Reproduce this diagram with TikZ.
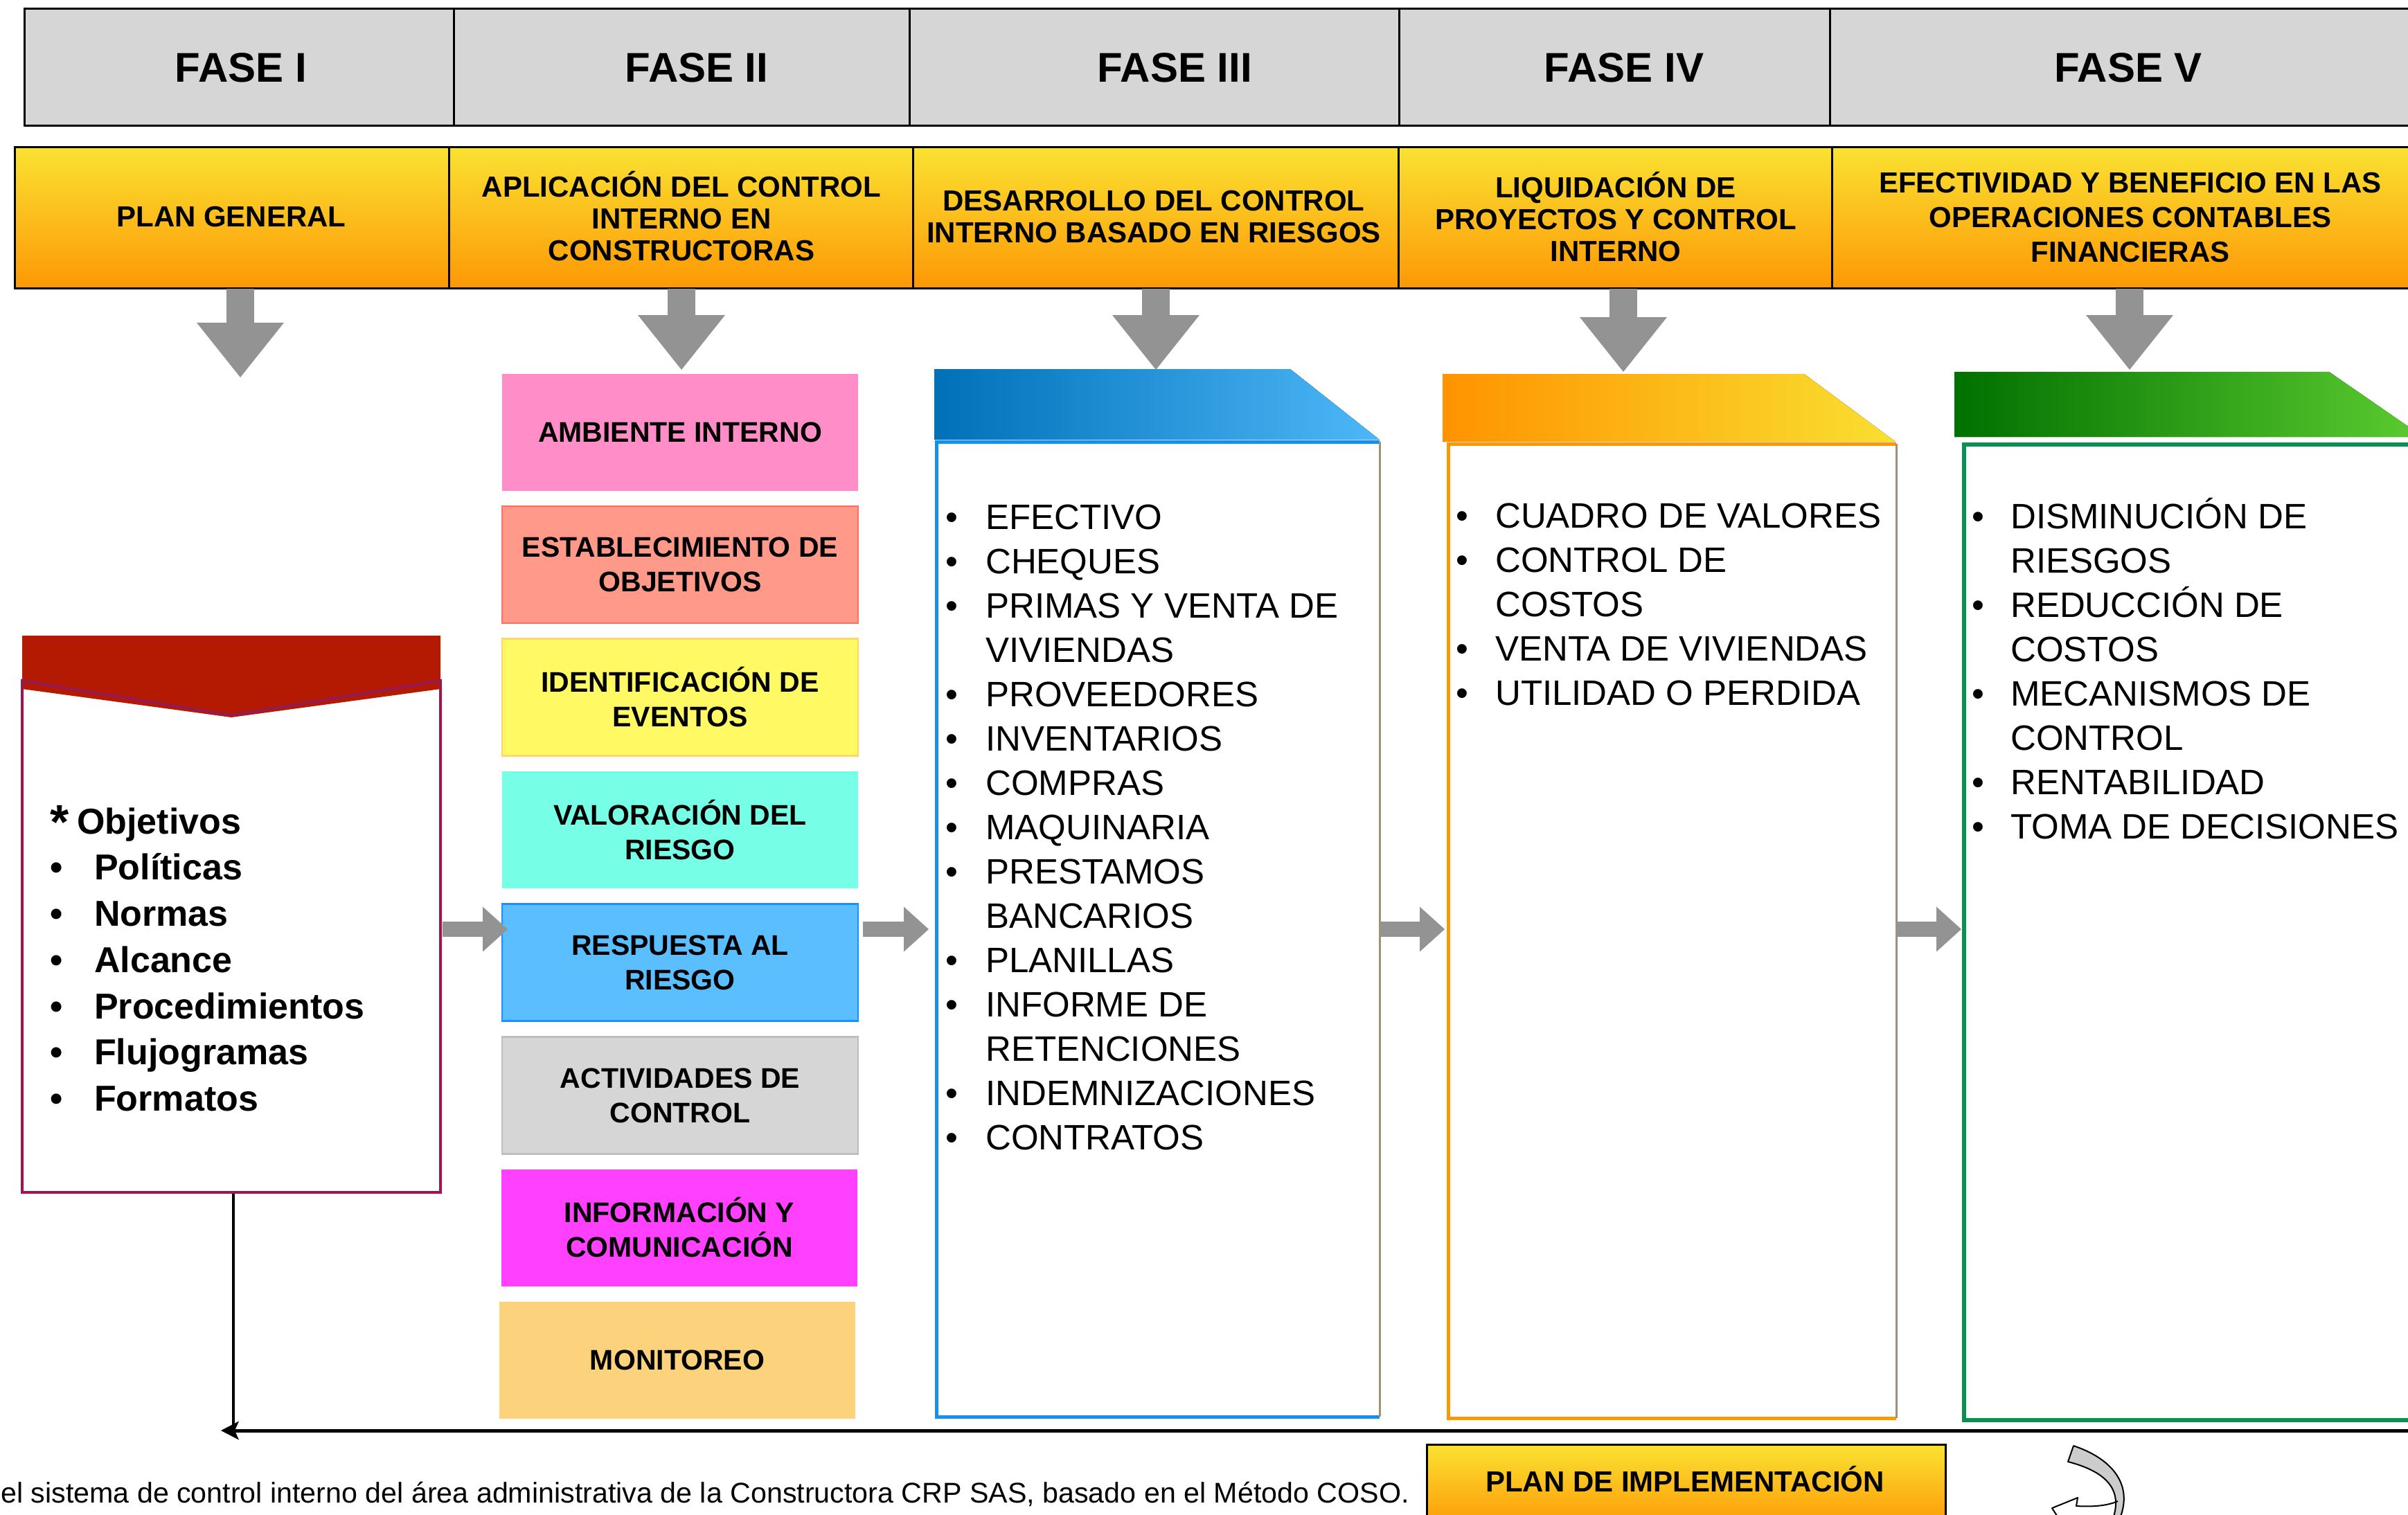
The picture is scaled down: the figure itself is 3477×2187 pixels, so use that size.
\documentclass[tikz,border=0pt]{standalone}
\usepackage{fontspec}
\setmainfont{Liberation Sans}
\usetikzlibrary{arrows.meta}
\definecolor{hdrgray}{RGB}{214,214,214}
\definecolor{ylw}{RGB}{250,226,50}
\definecolor{org}{RGB}{253,152,5}
\definecolor{arrgray}{RGB}{147,147,147}
\definecolor{darkred}{RGB}{180,25,2}
\definecolor{plum}{RGB}{150,25,80}
\definecolor{cAmb}{RGB}{255,141,199}
\definecolor{cEst}{RGB}{255,154,138}
\definecolor{cEstB}{RGB}{255,112,100}
\definecolor{cIde}{RGB}{255,250,100}
\definecolor{cIdeB}{RGB}{255,215,100}
\definecolor{cVal}{RGB}{118,255,230}
\definecolor{cRes}{RGB}{91,191,255}
\definecolor{cResB}{RGB}{25,145,255}
\definecolor{cActB}{RGB}{190,190,190}
\definecolor{cInf}{RGB}{255,64,255}
\definecolor{cMon}{RGB}{253,210,124}
\definecolor{bluA}{RGB}{0,112,184}
\definecolor{bluB}{RGB}{77,184,248}
\definecolor{bluL}{RGB}{20,145,240}
\definecolor{orgA}{RGB}{255,147,0}
\definecolor{ylwB}{RGB}{249,224,48}
\definecolor{orgL}{RGB}{255,152,0}
\definecolor{grnA}{RGB}{0,112,0}
\definecolor{grnB}{RGB}{92,204,48}
\definecolor{grnL}{RGB}{10,144,80}
\definecolor{tanc}{RGB}{155,148,115}
\definecolor{curvgray}{RGB}{204,204,204}
\newcommand\bu[1]{\makebox[#1][l]{•}}
\begin{document}
\begin{tikzpicture}[x=1pt,y=-1pt,
  cell/.style={anchor=north west, draw=black, line width=2.5pt, inner sep=0pt},
  graycell/.style={cell, fill=hdrgray, minimum height=169pt},
  orgcell/.style={cell, top color=ylw, bottom color=org, minimum height=204pt},
  fasetxt/.style={font=\fontsize{60}{72}\selectfont\bfseries, inner sep=0pt},
  tittxt/.style={font=\fontsize{42}{46}\selectfont\bfseries, align=center, inner sep=0pt},
  downarr/.style={draw=arrgray, line width=40pt, -{Triangle[length=79pt,width=126pt,line width=0pt]}},
  rightarr/.style={draw=arrgray, line width=22pt, -{Triangle[length=36pt,width=65pt,line width=0pt]}},
  comp/.style={minimum width=514pt, minimum height=169pt, inner sep=0pt, align=center,
    font=\fontsize{41}{50}\selectfont\bfseries, line width=2.5pt},
  listtxt/.style={anchor=north west, inner sep=0pt, align=left, font=\fontsize{51}{64}\selectfont},
  panel/.style={anchor=north west, fill=white, inner sep=0pt},
]
\useasboundingbox (0,0) rectangle (3477,2187);
\clip (0,0) rectangle (3477,2187);

% ---------- top gray row
\node[graycell, minimum width=620pt] (g1) at (34,11) {};
\node[graycell, minimum width=658pt] (g2) at (654,11) {};
\node[graycell, minimum width=707pt] (g3) at (1312,11) {};
\node[graycell, minimum width=622pt] (g4) at (2019,11) {};
\node[graycell, minimum width=860pt] (g5) at (2641,11) {};
\node[fasetxt] (f1) at (348,98) {FASE I};
\node[fasetxt] (f2) at (1006,98) {FASE II};
\node[fasetxt] (f3) at (1696,98) {FASE III};
\node[fasetxt] (f4) at (2345,98) {FASE IV};
\node[fasetxt] (f5) at (3073,98) {FASE V};

% ---------- orange row
\node[orgcell, minimum width=627pt] (o1) at (20,211) {};
\node[orgcell, minimum width=670pt] (o2) at (647,211) {};
\node[orgcell, minimum width=701pt] (o3) at (1317,211) {};
\node[orgcell, minimum width=626pt] (o4) at (2018,211) {};
\node[orgcell, minimum width=860pt] (o5) at (2644,211) {};
\node[tittxt] (t1) at (334,313) {PLAN GENERAL};
\node[tittxt] (t2) at (984,312) {APLICACIÓN DEL CONTROL\\INTERNO EN\\CONSTRUCTORAS};
\node[tittxt] (t3) at (1666,313) {DESARROLLO DEL CONTROL\\INTERNO BASADO EN RIESGOS};
\node[tittxt] (t4) at (2333,313) {LIQUIDACIÓN DE\\PROYECTOS Y CONTROL\\INTERNO};
\node[tittxt, font=\fontsize{42}{50}\selectfont\bfseries] (t5) at (3076,314) {EFECTIVIDAD Y BENEFICIO EN LAS\\OPERACIONES CONTABLES\\FINANCIERAS};

% ---------- down arrows
\coordinate (a1s) at (347,417);  \coordinate (a1e) at (347,545);
\coordinate (a2s) at (984,417);  \coordinate (a2e) at (984,534);
\coordinate (a3s) at (1669,417); \coordinate (a3e) at (1669,534);
\coordinate (a4s) at (2344,417); \coordinate (a4e) at (2344,537);
\coordinate (a5s) at (3075,417); \coordinate (a5e) at (3075,534);
\draw[downarr] (a1s) -- (a1e);
\draw[downarr] (a2s) -- (a2e);
\draw[downarr] (a3s) -- (a3e);
\draw[downarr] (a4s) -- (a4e);
\draw[downarr] (a5s) -- (a5e);

% ---------- FASE I box
\fill[white] (32,983) -- (334,1033) -- (636,983) -- (636,1722) -- (32,1722) -- cycle;
\fill[darkred] (32,918) -- (636,918) -- (636,995) -- (334,1036) -- (32,995) -- cycle;
\draw[plum, line width=4pt] (32,983) -- (334,1033) -- (636,983) -- (636,1722) -- (32,1722) -- cycle;
\node[anchor=north west, inner sep=0pt, align=left, font=\fontsize{52}{66.7}\selectfont\bfseries] (obj) at (72,1144)
 {\rule{0pt}{60pt}\makebox[39pt][l]{\raisebox{-7pt}{\fontsize{70}{70}\selectfont *}}Objetivos\\
  \bu{64pt}Políticas\\
  \bu{64pt}Normas\\
  \bu{64pt}Alcance\\
  \bu{64pt}Procedimientos\\
  \bu{64pt}Flujogramas\\
  \bu{64pt}Formatos};

% ---------- FASE II components
\node[comp, fill=cAmb] (b1) at (982,624.5) {AMBIENTE INTERNO};
\node[comp, fill=cEst, draw=cEstB] (b2) at (982,815.5) {ESTABLECIMIENTO DE\\OBJETIVOS};
\node[comp, fill=cIde, draw=cIdeB] (b3) at (982,1007) {IDENTIFICACIÓN DE\\EVENTOS};
\node[comp, fill=cVal] (b4) at (982,1198.5) {VALORACIÓN DEL\\RIESGO};
\node[comp, fill=cRes, draw=cResB] (b5) at (982,1390) {RESPUESTA AL\\RIESGO};
\node[comp, fill=hdrgray, draw=cActB] (b6) at (982,1582) {ACTIVIDADES DE\\CONTROL};
\node[comp, fill=cInf] (b7) at (981,1773) {INFORMACIÓN Y\\COMUNICACIÓN};
\node[comp, fill=cMon] (b8) at (978,1964) {MONITOREO};

% ---------- FASE III panel
\fill[left color=bluA, right color=bluB] (1349,533) -- (1863,533) -- (1992,635) -- (1349,635) -- cycle;
\node[panel, minimum width=640pt, minimum height=1408pt] (p3) at (1352,638) {};
\draw[bluL, line width=5pt] (p3.north east) -- (p3.north west) -- (p3.south west) -- (p3.south east);
\draw[tanc, line width=2.5pt] (p3.north east) -- (p3.south east);
\node[listtxt] (l3) at (1365,714)
 {\rule{0pt}{50pt}\bu{58pt}EFECTIVO\\
  \bu{58pt}CHEQUES\\
  \bu{58pt}PRIMAS Y VENTA DE\\
  \hspace*{58pt}VIVIENDAS\\
  \bu{58pt}PROVEEDORES\\
  \bu{58pt}INVENTARIOS\\
  \bu{58pt}COMPRAS\\
  \bu{58pt}MAQUINARIA\\
  \bu{58pt}PRESTAMOS\\
  \hspace*{58pt}BANCARIOS\\
  \bu{58pt}PLANILLAS\\
  \bu{58pt}INFORME DE\\
  \hspace*{58pt}RETENCIONES\\
  \bu{58pt}INDEMNIZACIONES\\
  \bu{58pt}CONTRATOS};

% ---------- FASE IV panel
\fill[left color=orgA, right color=ylwB] (2083,540) -- (2605,540) -- (2737,638) -- (2083,638) -- cycle;
\node[panel, minimum width=647pt, minimum height=1407pt] (p4) at (2091,641) {};
\draw[orgL, line width=5pt] (p4.north east) -- (p4.north west) -- (p4.south west) -- (p4.south east);
\draw[tanc, line width=2.5pt] (p4.north east) -- (p4.south east);
\node[listtxt] (l4) at (2102,712)
 {\rule{0pt}{50pt}\bu{57pt}CUADRO DE VALORES\\
  \bu{57pt}CONTROL DE\\
  \hspace*{57pt}COSTOS\\
  \bu{57pt}VENTA DE VIVIENDAS\\
  \bu{57pt}UTILIDAD O PERDIDA};

% ---------- FASE V panel
\fill[left color=grnA, right color=grnB] (2822,537) -- (3363,537) -- (3499,631) -- (2822,631) -- cycle;
\node[panel, draw=grnL, line width=6pt, minimum width=680pt, minimum height=1409pt] (p5) at (2833,639) {};
\node[listtxt] (l5) at (2847,713)
 {\rule{0pt}{50pt}\bu{56pt}DISMINUCIÓN DE\\
  \hspace*{56pt}RIESGOS\\
  \bu{56pt}REDUCCIÓN DE\\
  \hspace*{56pt}COSTOS\\
  \bu{56pt}MECANISMOS DE\\
  \hspace*{56pt}CONTROL\\
  \bu{56pt}RENTABILIDAD\\
  \bu{56pt}TOMA DE DECISIONES};

% ---------- right arrows between phases
\coordinate (r1s) at (639,1342);  \coordinate (r1e) at (733,1342);
\coordinate (r2s) at (1246,1342); \coordinate (r2e) at (1341,1342);
\coordinate (r3s) at (1993,1342); \coordinate (r3e) at (2086,1342);
\coordinate (r4s) at (2739,1342); \coordinate (r4e) at (2832,1342);
\draw[rightarr] (r1s) -- (r1e);
\draw[rightarr] (r2s) -- (r2e);
\draw[rightarr] (r3s) -- (r3e);
\draw[rightarr] (r4s) -- (r4e);

% ---------- feedback line
\coordinate (lbb) at (337,1724);
\coordinate (lbe) at (337,2060);
\draw[black, line width=4pt] (lbb) -- (lbe);
\coordinate (hs) at (3490,2066);
\coordinate (he) at (319,2066);
\draw[black, line width=5pt, -{Stealth[length=26pt,width=27pt,inset=6pt,line width=0pt]}] (hs) -- (he);

% ---------- caption and plan box
\node[anchor=base east, inner sep=0pt, font=\fontsize{41.2}{48}\selectfont] (cap) at (2035,2170)
 {el sistema de control interno del área administrativa de la Constructora CRP SAS, basado en el Método COSO.};
\node[cell, top color=ylw, bottom color=org, minimum width=749pt, minimum height=120pt] (plan) at (2059,2085) {};
\node[anchor=base, inner sep=0pt, font=\fontsize{42}{50}\selectfont\bfseries] (plantxt) at (2433,2154) {PLAN DE IMPLEMENTACIÓN};

% ---------- curved arrow glyph
\filldraw[fill=curvgray, draw=black, line width=2pt, line join=round]
  (2994,2088) .. controls (3045,2105) and (3080,2140) .. (3062,2190)
  -- (3052,2190) .. controls (3064,2150) and (3040,2125) .. (2986,2111) -- cycle;
\draw[black, line width=2pt, line join=round]
  (3058,2168) .. controls (3040,2176) and (3015,2176) .. (2998,2175)
  -- (3000,2163) -- (2963,2178) -- (2972,2192);
\end{tikzpicture}
\end{document}
